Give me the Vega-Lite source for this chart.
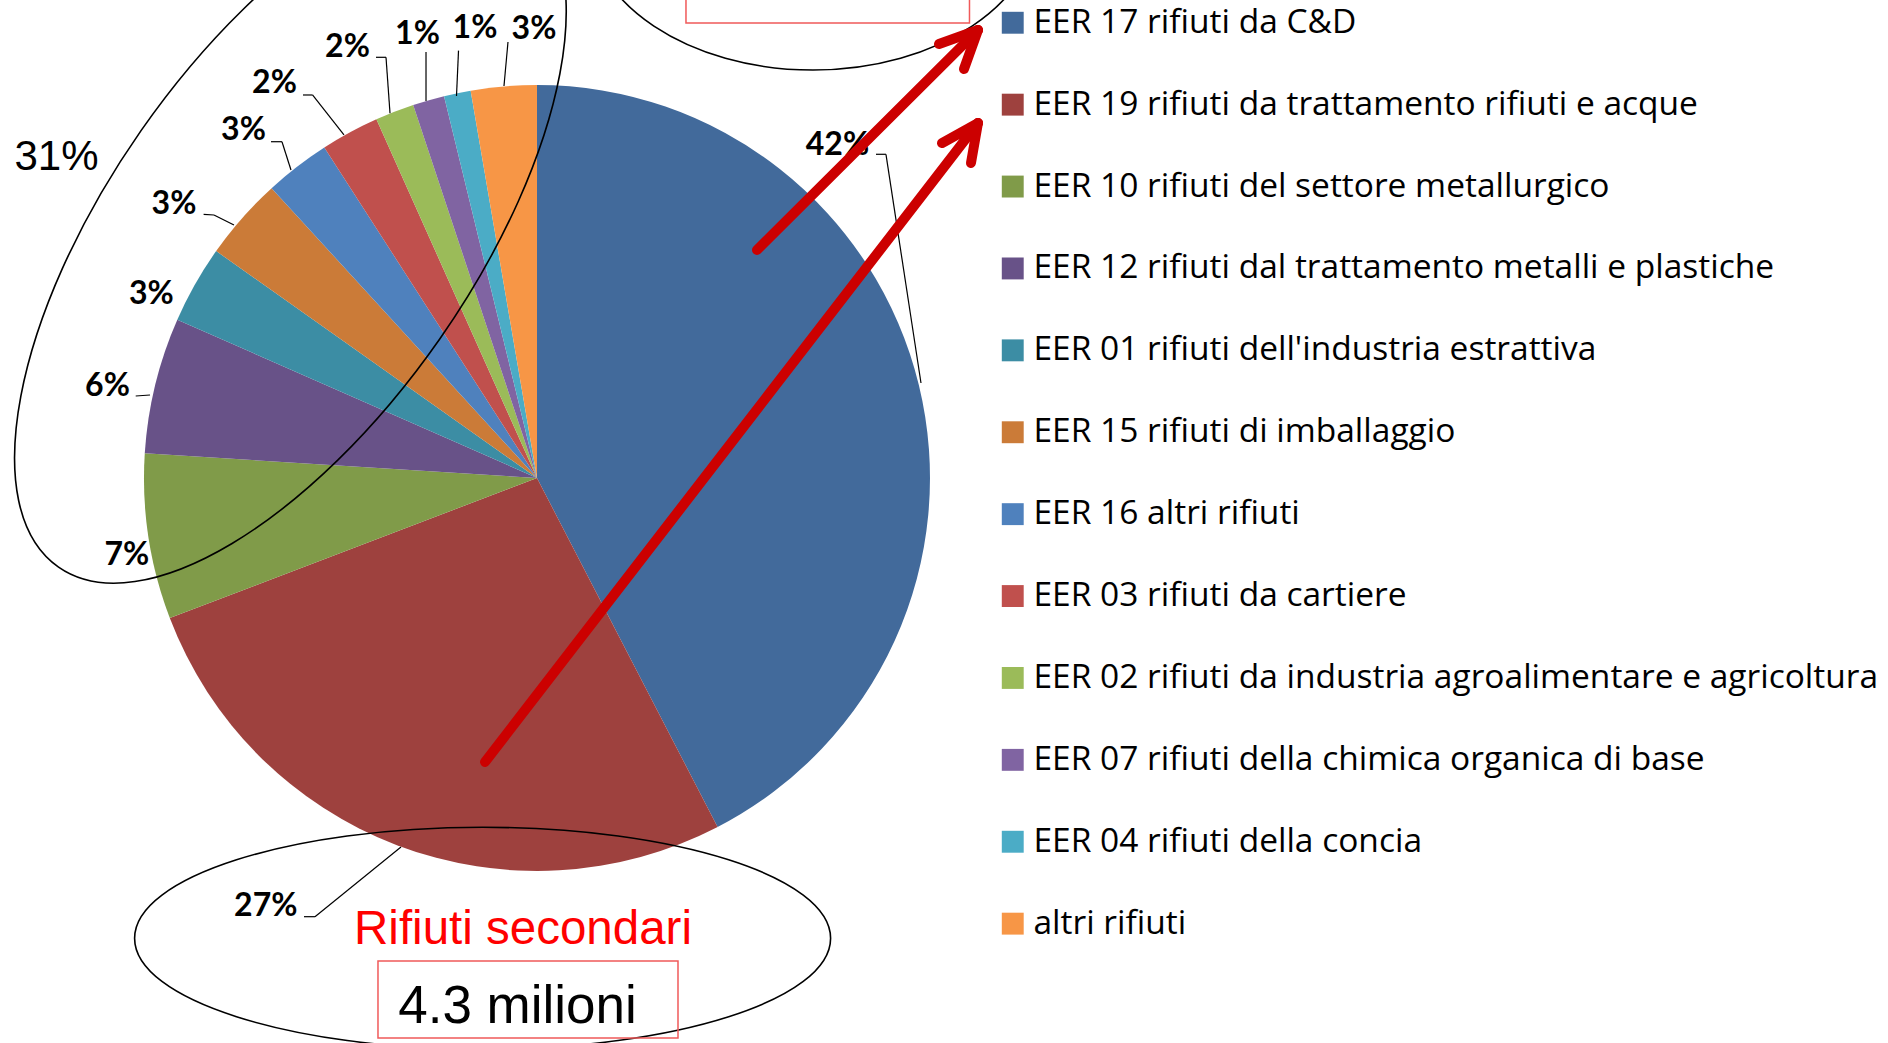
{
  "$schema": "https://vega.github.io/schema/vega-lite/v6.json",
  "width": 1888,
  "height": 1043,
  "padding": 0,
  "autosize": {"type": "none"},
  "background": "white",
  "config": {"view": {"stroke": null}},
  "datasets": {
    "pie": [
      {"cat": "EER 17 rifiuti da C&D", "share": 0.424, "n": 1},
      {"cat": "EER 19 rifiuti da trattamento rifiuti e acque", "share": 0.268, "n": 2},
      {"cat": "EER 10 rifiuti del settore metallurgico", "share": 0.068, "n": 3},
      {"cat": "EER 12 rifiuti dal trattamento metalli e plastiche", "share": 0.056, "n": 4},
      {"cat": "EER 01 rifiuti dell'industria estrattiva", "share": 0.032, "n": 5},
      {"cat": "EER 15 rifiuti di imballaggio", "share": 0.034, "n": 6},
      {"cat": "EER 16 altri rifiuti", "share": 0.027, "n": 7},
      {"cat": "EER 03 rifiuti da cartiere", "share": 0.024, "n": 8},
      {"cat": "EER 02 rifiuti da industria agroalimentare e agricoltura", "share": 0.016, "n": 9},
      {"cat": "EER 07 rifiuti della chimica organica di base", "share": 0.013, "n": 10},
      {"cat": "EER 04 rifiuti della concia", "share": 0.011, "n": 11},
      {"cat": "altri rifiuti", "share": 0.027, "n": 12}
    ],
    "labels": [
      {"cat": "EER 17 rifiuti da C&D", "lx": 0.7646, "ly": 0.8219},
      {"cat": "EER 19 rifiuti da trattamento rifiuti e acque", "lx": -0.6901, "ly": -1.1137},
      {"cat": "EER 10 rifiuti del settore metallurgico", "lx": -1.0438, "ly": -0.2214},
      {"cat": "EER 12 rifiuti dal trattamento metalli e plastiche", "lx": -1.0929, "ly": 0.2087},
      {"cat": "EER 01 rifiuti dell'industria estrattiva", "lx": -0.9814, "ly": 0.4427},
      {"cat": "EER 15 rifiuti di imballaggio", "lx": -0.9237, "ly": 0.6710},
      {"cat": "EER 16 altri rifiuti", "lx": -0.7468, "ly": 0.8588},
      {"cat": "EER 03 rifiuti da cartiere", "lx": -0.6679, "ly": 0.9789},
      {"cat": "EER 02 rifiuti da industria agroalimentare e agricoltura", "lx": -0.4822, "ly": 1.0712},
      {"cat": "EER 07 rifiuti della chimica organica di base", "lx": -0.3041, "ly": 1.1043},
      {"cat": "EER 04 rifiuti della concia", "lx": -0.1578, "ly": 1.1196},
      {"cat": "altri rifiuti", "lx": -0.0076, "ly": 1.1183}
    ],
    "leaders": [
      {"a": 0.8626, "b": 0.8237, "a2": 0.8880, "b2": 0.8237},
      {"a": 0.8880, "b": 0.8237, "a2": 0.9771, "b2": 0.2417},
      {"a": -0.5929, "b": -1.1163, "a2": -0.5649, "b2": -1.1163},
      {"a": -0.5649, "b": -1.1163, "a2": -0.3461, "b2": -0.9389},
      {"a": -1.0211, "b": 0.2087, "a2": -0.9847, "b2": 0.2112},
      {"a": -0.8483, "b": 0.6710, "a2": -0.8219, "b2": 0.6692},
      {"a": -0.8219, "b": 0.6692, "a2": -0.7710, "b2": 0.6438},
      {"a": -0.6768, "b": 0.8557, "a2": -0.6489, "b2": 0.8557},
      {"a": -0.6489, "b": 0.8557, "a2": -0.6260, "b2": 0.7837},
      {"a": -0.5954, "b": 0.9746, "a2": -0.5712, "b2": 0.9746},
      {"a": -0.5712, "b": 0.9746, "a2": -0.4911, "b2": 0.8728},
      {"a": -0.4097, "b": 1.0705, "a2": -0.3842, "b2": 1.0705},
      {"a": -0.3842, "b": 1.0705, "a2": -0.3740, "b2": 0.9280},
      {"a": -0.2824, "b": 1.0840, "a2": -0.2824, "b2": 0.9593},
      {"a": -0.1997, "b": 1.0875, "a2": -0.2048, "b2": 0.9720},
      {"a": -0.0738, "b": 1.1094, "a2": -0.0840, "b2": 0.9975}
    ],
    "arrows": [
      {"a": 0.5598, "b": 0.5802, "a2": 1.1221, "b2": 1.1399},
      {"a": 1.1221, "b": 1.1399, "a2": 1.0229, "b2": 1.1043},
      {"a": 1.1221, "b": 1.1399, "a2": 1.0865, "b2": 1.0407},
      {"a": -0.1323, "b": -0.7226, "a2": 1.1221, "b2": 0.9033},
      {"a": 1.1221, "b": 0.9033, "a2": 1.0305, "b2": 0.8524},
      {"a": 1.1221, "b": 0.9033, "a2": 1.1043, "b2": 0.8015}
    ],
    "boxes": [
      {"a": -0.4046, "b": -1.2290, "a2": 0.3588, "b2": -1.4249},
      {"a": 0.3791, "b": 1.3181, "a2": 1.1005, "b2": 1.1578}
    ]
  },
  "layer": [
    {
      "data": {"name": "pie"},
      "mark": {"type": "arc", "outerRadius": 393},
      "encoding": {
        "theta": {"field": "share", "type": "quantitative", "stack": true},
        "order": {"field": "n", "type": "quantitative"},
        "x": {"datum": 0, "type": "quantitative", "scale": {"domain": [-1.3664, 3.4377], "nice": false, "zero": false}, "axis": null},
        "y": {"datum": 0, "type": "quantitative", "scale": {"domain": [-1.4377, 1.2163], "nice": false, "zero": false}, "axis": null},
        "color": {
          "field": "cat", "type": "nominal",
          "scale": {
            "domain": ["EER 17 rifiuti da C&D", "EER 19 rifiuti da trattamento rifiuti e acque", "EER 10 rifiuti del settore metallurgico", "EER 12 rifiuti dal trattamento metalli e plastiche", "EER 01 rifiuti dell'industria estrattiva", "EER 15 rifiuti di imballaggio", "EER 16 altri rifiuti", "EER 03 rifiuti da cartiere", "EER 02 rifiuti da industria agroalimentare e agricoltura", "EER 07 rifiuti della chimica organica di base", "EER 04 rifiuti della concia", "altri rifiuti"],
            "range": ["#426A9B", "#9E413E", "#809B49", "#685288", "#3C8DA4", "#CB7B38", "#4F81BD", "#C0504D", "#9BBB59", "#8064A2", "#4BACC6", "#F79646"]
          },
          "legend": {
            "title": null, "orient": "none", "legendX": 996, "legendY": 6,
            "symbolType": "square", "symbolSize": 480, "symbolStrokeWidth": 0,
            "labelFont": "Open Sans", "labelFontSize": 33.5, "labelColor": "#000000",
            "labelOffset": 4, "rowPadding": 46.9, "labelLimit": 0, "padding": 0
          }
        }
      }
    },
    {
      "data": {"name": "leaders"},
      "mark": {"type": "rule", "color": "#000000", "strokeWidth": 1.2},
      "encoding": {
        "x": {"field": "a", "type": "quantitative", "scale": {"domain": [-1.3664, 3.4377], "nice": false, "zero": false}, "axis": null},
        "y": {"field": "b", "type": "quantitative", "scale": {"domain": [-1.4377, 1.2163], "nice": false, "zero": false}, "axis": null},
        "x2": {"field": "a2"},
        "y2": {"field": "b2"}
      }
    },
    {
      "data": {"name": "labels"},
      "transform": [{"lookup": "cat", "from": {"data": {"name": "pie"}, "key": "cat", "fields": ["share"]}}],
      "mark": {"type": "text", "font": "Lato", "fontWeight": "bold", "fontSize": 32, "color": "#000000", "align": "center", "baseline": "alphabetic"},
      "encoding": {
        "x": {"field": "lx", "type": "quantitative", "scale": {"domain": [-1.3664, 3.4377], "nice": false, "zero": false}, "axis": null},
        "y": {"field": "ly", "type": "quantitative", "scale": {"domain": [-1.4377, 1.2163], "nice": false, "zero": false}, "axis": null},
        "text": {"field": "share", "type": "quantitative", "format": ".0%"}
      }
    },
    {
      "data": {"values": [{"ox": -0.6275, "oy": 0.6188}]},
      "mark": {"type": "point", "filled": false, "opacity": 1, "color": "#000000", "strokeWidth": 1.6, "size": 656748, "angle": -55.1,
        "shape": "M1,0C1,0.2482,0.5523,0.4494,0,0.4494C-0.5523,0.4494,-1,0.2482,-1,0C-1,-0.2482,-0.5523,-0.4494,0,-0.4494C0.5523,-0.4494,1,-0.2482,1,0Z"},
      "encoding": {
        "x": {"field": "ox", "type": "quantitative", "scale": {"domain": [-1.3664, 3.4377], "nice": false, "zero": false}, "axis": null},
        "y": {"field": "oy", "type": "quantitative", "scale": {"domain": [-1.4377, 1.2163], "nice": false, "zero": false}, "axis": null}
      }
    },
    {
      "data": {"values": [{"ox": -0.1384, "oy": -1.1712}]},
      "mark": {"type": "point", "filled": false, "opacity": 1, "color": "#000000", "strokeWidth": 1.6, "size": 484416,
        "shape": "M1,0C1,0.1762,0.5523,0.319,0,0.319C-0.5523,0.319,-1,0.1762,-1,0C-1,-0.1762,-0.5523,-0.319,0,-0.319C0.5523,-0.319,1,-0.1762,1,0Z"},
      "encoding": {
        "x": {"field": "ox", "type": "quantitative", "scale": {"domain": [-1.3664, 3.4377], "nice": false, "zero": false}, "axis": null},
        "y": {"field": "oy", "type": "quantitative", "scale": {"domain": [-1.4377, 1.2163], "nice": false, "zero": false}, "axis": null}
      }
    },
    {
      "data": {"values": [{"ox": 0.7023, "oy": 1.4198}]},
      "mark": {"type": "point", "filled": false, "opacity": 1, "color": "#000000", "strokeWidth": 1.6, "size": 202500,
        "shape": "M1,0C1,0.3682,0.5523,0.6667,0,0.6667C-0.5523,0.6667,-1,0.3682,-1,0C-1,-0.3682,-0.5523,-0.6667,0,-0.6667C0.5523,-0.6667,1,-0.3682,1,0Z"},
      "encoding": {
        "x": {"field": "ox", "type": "quantitative", "scale": {"domain": [-1.3664, 3.4377], "nice": false, "zero": false}, "axis": null},
        "y": {"field": "oy", "type": "quantitative", "scale": {"domain": [-1.4377, 1.2163], "nice": false, "zero": false}, "axis": null}
      }
    },
    {
      "data": {"name": "boxes"},
      "mark": {"type": "rect", "filled": false, "stroke": "#F05A5A", "strokeWidth": 1.5},
      "encoding": {
        "x": {"field": "a", "type": "quantitative", "scale": {"domain": [-1.3664, 3.4377], "nice": false, "zero": false}, "axis": null},
        "y": {"field": "b", "type": "quantitative", "scale": {"domain": [-1.4377, 1.2163], "nice": false, "zero": false}, "axis": null},
        "x2": {"field": "a2"},
        "y2": {"field": "b2"}
      }
    },
    {
      "data": {"values": [{"t": "31%", "tx": -1.2226, "ty": 0.7837}]},
      "mark": {"type": "text", "font": "Liberation Sans", "fontSize": 42, "color": "#000000", "align": "center", "baseline": "alphabetic"},
      "encoding": {
        "x": {"field": "tx", "type": "quantitative", "scale": {"domain": [-1.3664, 3.4377], "nice": false, "zero": false}, "axis": null},
        "y": {"field": "ty", "type": "quantitative", "scale": {"domain": [-1.4377, 1.2163], "nice": false, "zero": false}, "axis": null},
        "text": {"field": "t"}
      }
    },
    {
      "data": {"values": [{"t": "Rifiuti secondari", "tx": -0.0356, "ty": -1.1858}]},
      "mark": {"type": "text", "font": "Liberation Sans", "fontSize": 47.5, "color": "#FF0000", "align": "center", "baseline": "alphabetic"},
      "encoding": {
        "x": {"field": "tx", "type": "quantitative", "scale": {"domain": [-1.3664, 3.4377], "nice": false, "zero": false}, "axis": null},
        "y": {"field": "ty", "type": "quantitative", "scale": {"domain": [-1.4377, 1.2163], "nice": false, "zero": false}, "axis": null},
        "text": {"field": "t"}
      }
    },
    {
      "data": {"values": [{"t": "4.3 milioni", "tx": -0.0496, "ty": -1.3868}]},
      "mark": {"type": "text", "font": "Liberation Sans", "fontSize": 53, "color": "#000000", "align": "center", "baseline": "alphabetic"},
      "encoding": {
        "x": {"field": "tx", "type": "quantitative", "scale": {"domain": [-1.3664, 3.4377], "nice": false, "zero": false}, "axis": null},
        "y": {"field": "ty", "type": "quantitative", "scale": {"domain": [-1.4377, 1.2163], "nice": false, "zero": false}, "axis": null},
        "text": {"field": "t"}
      }
    },
    {
      "data": {"name": "arrows"},
      "mark": {"type": "rule", "color": "#CC0000", "strokeWidth": 10, "strokeCap": "round"},
      "encoding": {
        "x": {"field": "a", "type": "quantitative", "scale": {"domain": [-1.3664, 3.4377], "nice": false, "zero": false}, "axis": null},
        "y": {"field": "b", "type": "quantitative", "scale": {"domain": [-1.4377, 1.2163], "nice": false, "zero": false}, "axis": null},
        "x2": {"field": "a2"},
        "y2": {"field": "b2"}
      }
    }
  ]
}
